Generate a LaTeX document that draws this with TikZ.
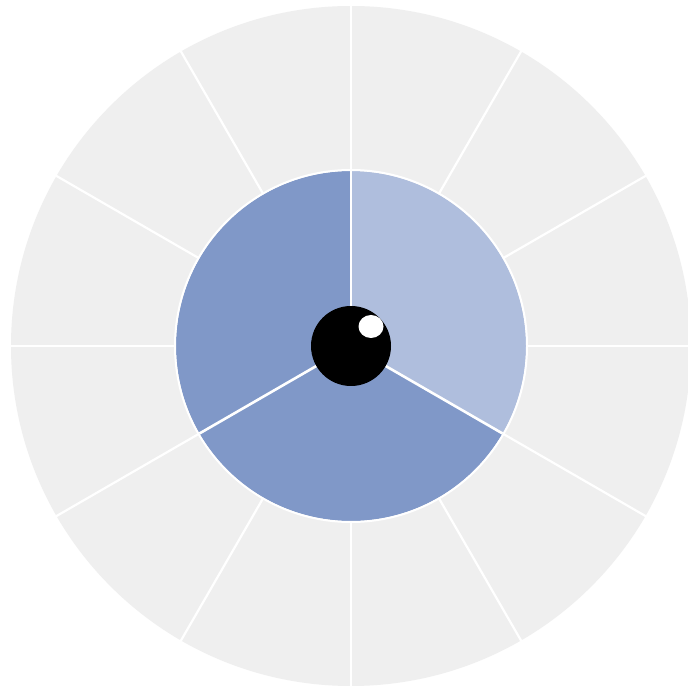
\documentclass[tikz,border=0pt]{standalone}
\usetikzlibrary{calc}
\definecolor{ringgray}{RGB}{239,239,239}
\definecolor{lightblue}{RGB}{175,190,221}
\definecolor{midblue}{RGB}{128,152,200}
\begin{document}
\begin{tikzpicture}[x=1pt,y=1pt,
  sep/.style={white, line width=2.2pt},
  sector/.style={draw=none}]
\useasboundingbox (0,0) rectangle (688,686);
\fill[white] (0,0) rectangle (688,686);
\coordinate (C) at (351,340);
% outer ring
\fill[ringgray] (C) circle[radius=340];
\foreach \a in {0,30,...,330} \draw[sep] (C) -- ++(\a:341);
% inner sectors
\fill[lightblue] (C) -- ++(-30:175) arc[start angle=-30,end angle=90,radius=175] -- cycle;
\fill[midblue] (C) -- ++(90:175) arc[start angle=90,end angle=210,radius=175] -- cycle;
\fill[midblue] (C) -- ++(210:175) arc[start angle=210,end angle=330,radius=175] -- cycle;
\draw[white, line width=2pt] (C) circle[radius=176];
\foreach \a in {90,210,330} \draw[white, line width=2.6pt] (C) -- ++(\a:175);
% centre eye
\fill[black] (C) circle[radius=40];
\fill[white] ($(C)+(20,19.5)$) ellipse[x radius=12.5pt, y radius=11.5pt];
\end{tikzpicture}
\end{document}
